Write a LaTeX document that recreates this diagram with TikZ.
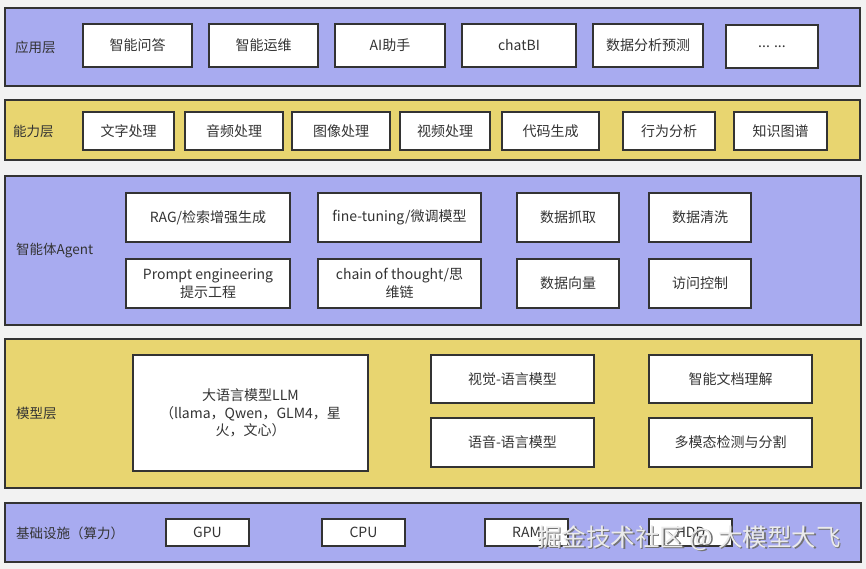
\documentclass[tikz,border=0pt]{standalone}
\usepackage{fontspec}
\setmainfont{Noto Sans CJK SC}
\begin{document}
\begin{tikzpicture}[x=1pt,y=-1pt,
  layer/.style={draw=black!80, line width=1.3pt, inner sep=0pt, outer sep=0pt},
  blue/.style={layer, fill=layerblue},
  yellow/.style={layer, fill=layeryellow},
  box/.style={draw=black!80, line width=1.3pt, fill=white, inner sep=0pt, outer sep=0pt, font=\fontsize{14}{17.5}\selectfont, text=black!80, align=center},
  lbl/.style={anchor=west, inner sep=0pt, font=\fontsize{13.5}{16}\selectfont, text=black!80}]
\definecolor{layerblue}{RGB}{168,171,240}
\definecolor{layeryellow}{RGB}{232,213,112}
\definecolor{bg}{RGB}{242,242,242}
\fill[bg] (0,0) rectangle (866,569);
\useasboundingbox (0,0) rectangle (866,569);
\newcommand{\bx}[7]{\node[#1, minimum width={#5-#3}, minimum height={#6-#4}] (#2) at ({(#3+#5)/2},{(#4+#6)/2}) {#7};}
% layers
\bx{blue}{L1}{5}{8}{860}{86}{}
\bx{yellow}{L2}{5}{100}{860}{160}{}
\bx{blue}{L3}{5}{176}{861}{325}{}
\bx{yellow}{L4}{5}{339}{861}{488}{}
\bx{blue}{L5}{5}{503}{861}{562}{}
% labels
\node[lbl] (t1) at (15,47) {应用层};
\node[lbl] (t2) at (13,131) {能力层};
\node[lbl] (t3) at (16,250) {智能体Agent};
\node[lbl] (t4) at (16,413) {模型层};
\node[lbl] (t5) at (16,533) {基础设施（算力）};
% layer 1
\bx{box}{a1}{83}{24}{192}{67}{智能问答}
\bx{box}{a2}{209}{24}{318}{67}{智能运维}
\bx{box}{a3}{335}{24}{445}{67}{AI助手}
\bx{box}{a4}{462}{24}{576}{67}{chatBI}
\bx{box}{a5}{593}{24}{703}{67}{数据分析预测}
\bx{box}{a6}{726}{25}{818}{68}{... ...}
% layer 2
\bx{box}{b1}{83}{112}{174}{150}{文字处理}
\bx{box}{b2}{185}{112}{283}{150}{音频处理}
\bx{box}{b3}{292}{112}{390}{150}{图像处理}
\bx{box}{b4}{400}{112}{490}{150}{视频处理}
\bx{box}{b5}{502}{112}{599}{150}{代码生成}
\bx{box}{b6}{623}{112}{715}{150}{行为分析}
\bx{box}{b7}{734}{112}{827}{150}{知识图谱}
% layer 3
\bx{box}{c1}{126}{193}{290}{242}{RAG/检索增强生成}
\bx{box}{c2}{318}{193}{481}{242}{fine-tuning/微调模型}
\bx{box}{c3}{517}{193}{619}{242}{数据抓取}
\bx{box}{c4}{649}{193}{751}{242}{数据清洗}
\bx{box}{c5}{126}{259}{290}{308}{Prompt engineering\\提示工程}
\bx{box}{c6}{318}{259}{481}{308}{chain of thought/思\\维链}
\bx{box}{c7}{517}{259}{619}{308}{数据向量}
\bx{box}{c8}{649}{259}{751}{308}{访问控制}
% layer 4
\bx{box}{d1}{133}{355}{368}{471}{大语言模型LLM\\（llama，Qwen，GLM4，星\\火，文心）}
\bx{box}{d2}{431}{355}{594}{403}{视觉-语言模型}
\bx{box}{d3}{649}{355}{812}{403}{智能文档理解}
\bx{box}{d4}{431}{418}{594}{467}{语音-语言模型}
\bx{box}{d5}{649}{418}{812}{467}{多模态检测与分割}
% layer 5
\bx{box}{e1}{166}{519}{249}{546}{GPU}
\bx{box}{e2}{322}{519}{405}{546}{CPU}
\bx{box}{e3}{485}{519}{568}{546}{RAM}
\bx{box}{e4}{649}{519}{732}{546}{HDD}
% watermark
\node[anchor=west, inner sep=0pt, font=\fontsize{24.5}{26}\selectfont, text=black!55] (wms) at (538.5,539.5) {掘金技术社区 @ 大模型大飞};
\node[anchor=west, inner sep=0pt, font=\fontsize{24.5}{26}\selectfont, text=white!92!black] (wm) at (537,538) {掘金技术社区 @ 大模型大飞};
\end{tikzpicture}
\end{document}
